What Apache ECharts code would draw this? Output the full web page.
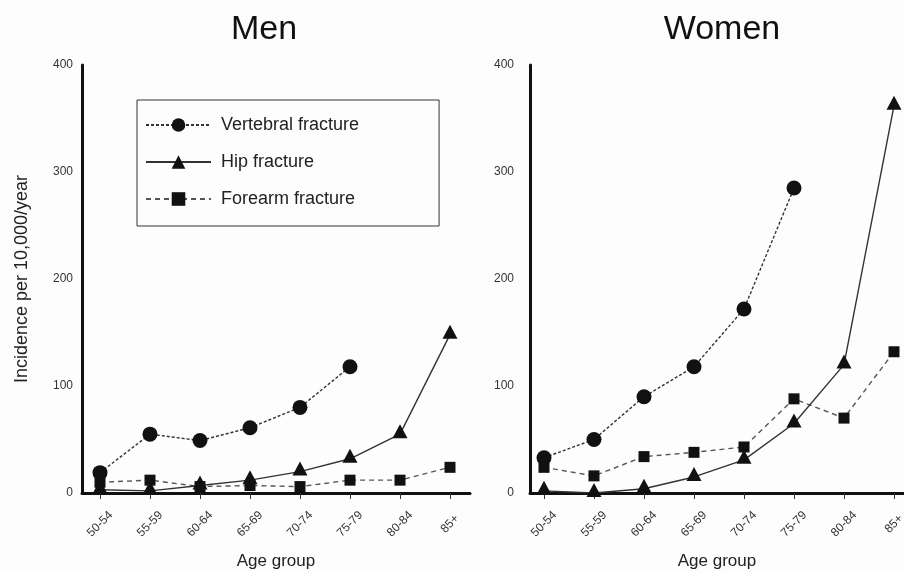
<!DOCTYPE html>
<html>
<head>
<meta charset="utf-8">
<script src="https://cdn.jsdelivr.net/npm/echarts@6/dist/echarts.min.js"></script>
<style>
  html, body { margin: 0; padding: 0; background: #fdfdfd; }
  #chart { width: 904px; height: 572px; }
</style>
</head>
<body>
<div id="chart"></div>
<script>
// Age groups on the x axis
const ageGroups = ['50-54', '55-59', '60-64', '65-69', '70-74', '75-79', '80-84', '85+'];
const yTicks = [0, 100, 200, 300, 400];

// Incidence per 10,000/year, men
const menVertebral = [19, 55, 49, 61, 80, 118];
const menHip = [3, 2, 7, 12, 20, 32, 55, 148];
const menForearm = [10, 12, 6, 7, 6, 12, 12, 24];

// Incidence per 10,000/year, women
const womenVertebral = [33, 50, 90, 118, 172, 285];
const womenHip = [2, 0, 4, 15, 31, 65, 120, 362];
const womenForearm = [24, 16, 34, 38, 43, 88, 70, 132];

const FONT = 'Liberation Sans, Arial, sans-serif';
const INK = '#111';

const pairs = arr => arr.map((v, i) => [i, v]);
const catIdx = ageGroups.map((_, i) => i);

function xAxisFor(gridIndex, min, max) {
  return {
    type: 'value', gridIndex, min, max,
    name: 'Age group', nameLocation: 'middle', nameGap: 60,
    nameTextStyle: { fontFamily: FONT, fontSize: 17, color: '#222' },
    axisLine: { show: true, onZero: false, lineStyle: { color: INK, width: 3 } },
    axisTick: { show: true, customValues: catIdx, length: 6, lineStyle: { color: '#333', width: 1 } },
    splitLine: { show: false },
    axisLabel: {
      customValues: catIdx, rotate: 45, align: 'center', verticalAlign: 'middle', margin: 31,
      formatter: v => ageGroups[Math.round(v)] || '',
      fontFamily: FONT, fontSize: 12, color: '#333'
    }
  };
}

function yAxisFor(gridIndex, withName, labelMargin) {
  return {
    type: 'value', gridIndex, min: yTicks[0], max: yTicks[yTicks.length - 1], interval: 100,
    name: withName ? 'Incidence per 10,000/year' : '', nameLocation: 'middle', nameGap: 51,
    nameTextStyle: { fontFamily: FONT, fontSize: 18, color: '#222' },
    axisLine: { show: true, onZero: false, lineStyle: { color: INK, width: 3 } },
    axisTick: { show: false },
    splitLine: { show: false },
    axisLabel: { margin: labelMargin, fontFamily: FONT, fontSize: 12, color: '#333' }
  };
}

const lineColor = '#333';
function vertebral(data, idx) {
  return {
    name: 'Vertebral fracture', type: 'line', xAxisIndex: idx, yAxisIndex: idx,
    data: pairs(data), symbol: 'circle', symbolSize: 15,
    itemStyle: { color: INK },
    lineStyle: { color: lineColor, width: 1.4, type: [3, 2] },
    z: 3
  };
}
function hip(data, idx) {
  return {
    name: 'Hip fracture', type: 'line', xAxisIndex: idx, yAxisIndex: idx,
    data: pairs(data), symbol: 'triangle', symbolSize: [15, 14], symbolOffset: [0, -3],
    itemStyle: { color: INK },
    lineStyle: { color: lineColor, width: 1.4, type: 'solid' },
    z: 4
  };
}
function forearm(data, idx) {
  return {
    name: 'Forearm fracture', type: 'line', xAxisIndex: idx, yAxisIndex: idx,
    data: pairs(data), symbol: 'rect', symbolSize: 11,
    itemStyle: { color: INK },
    lineStyle: { color: '#555', width: 1.4, type: [5, 4] },
    z: 2
  };
}

const chart = echarts.init(document.getElementById('chart'), null, { renderer: 'canvas' });
chart.setOption({
  animation: false,
  backgroundColor: '#fdfdfd',
  graphic: [
    { type: 'text', x: 264, y: 30, style: { text: 'Men', font: '34px ' + FONT, fill: INK, textAlign: 'center', textVerticalAlign: 'middle' } },
    { type: 'text', x: 722, y: 30, style: { text: 'Women', font: '34px ' + FONT, fill: INK, textAlign: 'center', textVerticalAlign: 'middle' } }
  ],
  legend: {
    orient: 'vertical', left: 137, top: 100,
    data: ['Vertebral fracture', 'Hip fracture', 'Forearm fracture'],
    itemWidth: 65, itemHeight: 17, itemGap: 19,
    padding: [16, 80, 18, 8],
    borderColor: '#333', borderWidth: 1,
    textStyle: { fontFamily: FONT, fontSize: 18, color: '#222', padding: [0, 0, 0, 5] },
    selectedMode: false
  },
  grid: [
    { left: 82, top: 65, width: 388, height: 428, outerBoundsMode: 'none' },
    { left: 530, top: 65, width: 374, height: 428, outerBoundsMode: 'none' }
  ],
  xAxis: [xAxisFor(0, -0.36, 7.4), xAxisFor(1, -0.28, 7.2)],
  yAxis: [yAxisFor(0, true, 9), yAxisFor(1, false, 16)],
  series: [
    vertebral(menVertebral, 0), hip(menHip, 0), forearm(menForearm, 0),
    vertebral(womenVertebral, 1), hip(womenHip, 1), forearm(womenForearm, 1)
  ]
});
</script>
</body>
</html>
